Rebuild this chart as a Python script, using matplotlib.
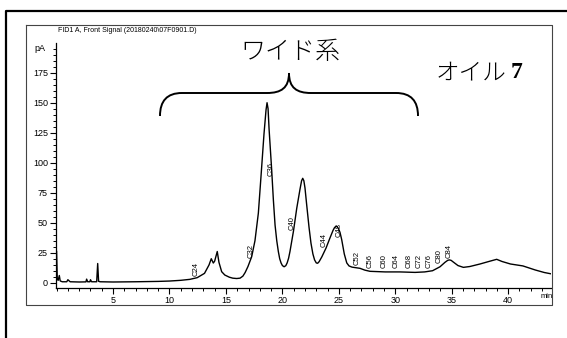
import matplotlib
matplotlib.use("Agg")
import matplotlib.pyplot as plt
from matplotlib.path import Path
from matplotlib.patches import PathPatch
from matplotlib.lines import Line2D
from matplotlib.ticker import MultipleLocator

# FID chromatogram trace (retention time in min, signal in pA)
time_min = [0.0, 0.06, 0.14, 0.24, 0.32, 0.5, 0.9, 1.0, 1.2, 2.0, 2.6, 2.66, 2.75, 2.95,
            3.0, 3.1, 3.55, 3.64, 3.72, 3.85, 5.0, 7.0, 9.0, 10.0, 11.0, 11.8, 12.45,
            13.1, 13.5, 13.7, 13.88, 14.0, 14.23, 14.38, 14.62, 14.9, 15.3, 15.6, 15.95,
            16.25, 16.5, 16.7, 16.95, 17.28, 17.57, 17.87, 18.1, 18.37, 18.55, 18.64,
            18.73, 18.82, 19.05, 19.2, 19.35, 19.5, 19.64, 19.76, 19.88, 20.0, 20.15,
            20.3, 20.42, 20.55, 20.67, 20.98, 21.27, 21.56, 21.7, 21.8, 21.9, 22.0,
            22.15, 22.36, 22.53, 22.7, 22.85, 23.0, 23.12, 23.25, 23.49, 23.87, 24.2,
            24.48, 24.62, 24.75, 24.87, 24.97, 25.1, 25.25, 25.48, 25.7, 25.9, 26.16,
            26.87, 27.3, 27.76, 29.1, 30.4, 31.75, 32.6, 33.3, 33.96, 34.4, 34.65, 34.8,
            34.95, 35.1, 35.55, 36.03, 36.6, 37.5, 38.4, 38.98, 39.45, 40.2, 41.3, 42.4,
            43.2, 43.8]
signal_pa = [26.0, 3.0, 2.0, 6.0, 1.5, 0.8, 0.8, 2.5, 0.8, 0.6, 0.7, 3.0, 0.8, 0.8,
             2.5, 0.8, 0.8, 16.0, 1.2, 0.8, 0.6, 0.8, 1.1, 1.4, 2.0, 2.8, 4.2,
             7.8, 14.8, 20.0, 16.4, 18.0, 26.0, 17.0, 9.2, 6.4, 4.6, 3.8, 3.5,
             3.8, 5.5, 8.5, 13.5, 21.7, 35.0, 58.0, 88.0, 124.0, 144.0, 150.0,
             145.0, 128.0, 94.0, 69.0, 48.0, 35.0, 26.0, 20.0, 16.5, 14.3, 13.3,
             14.2, 16.5, 20.5, 26.0, 43.0, 62.0, 78.0, 85.0, 87.0, 85.0, 79.0,
             65.0, 46.0, 33.0, 24.0, 19.0, 16.5, 16.2, 17.5, 21.5, 29.0, 37.0,
             43.5, 46.0, 47.0, 46.5, 45.0, 42.0, 36.0, 24.0, 16.5, 14.0, 13.0,
             12.0, 10.5, 9.5, 9.0, 9.0, 8.6, 9.0, 10.0, 13.3, 17.0, 18.7, 19.0,
             18.6, 17.5, 14.3, 12.8, 13.5, 15.6, 18.0, 19.5, 17.7, 15.6, 14.0, 10.6,
             8.5, 7.4]

# Carbon-number markers (retention time, label base height in pA)
peak_names = ["C24", "C32", "C36", "C40", "C44", "C48", "C52", "C56", "C60",
              "C64", "C68", "C72", "C76", "C80", "C84"]
peak_times = [12.35, 17.2, 18.96, 20.9, 23.7, 25.04, 26.6, 27.76, 29.0,
              30.1, 31.2, 32.1, 33.0, 33.9, 34.8]
peak_heights = [5.5, 21, 89, 44, 30, 38, 15, 12, 12, 12, 12, 12, 12, 16.5, 20.6]

x_ticks = [5, 10, 15, 20, 25, 30, 35, 40]
y_ticks = [0, 25, 50, 75, 100, 125, 150, 175]

W, H = 567, 338
fig = plt.figure(figsize=(W / 100, H / 100), dpi=100)

def fx(px):
    return px / W

def fy(py):
    return (H - py) / H

tick_font = ["Liberation Sans Narrow", "Liberation Sans", "DejaVu Sans"]

# outer frame (left and top edges visible)
fig.add_artist(Line2D([fx(5.8), fx(5.8), fx(W + 2)], [fy(H + 2), fy(10.8), fy(10.8)],
                      transform=fig.transFigure, color="black", lw=1.6))
# inner frame around the chromatogram
fig.add_artist(Line2D([fx(26), fx(552), fx(552), fx(26), fx(26)],
                      [fy(25), fy(25), fy(305), fy(305), fy(25)],
                      transform=fig.transFigure, color="#444444", lw=0.8))

left_px, right_px, top_px, bot_px = 55.5, 551, 43, 288
ax = fig.add_axes([fx(left_px), fy(bot_px), (right_px - left_px) / W, (bot_px - top_px) / H])
ax.set_facecolor("none")
ax.plot(time_min, signal_pa, color="black", lw=1.0, solid_joinstyle="round")
ax.set_xlim(-0.097, 43.79)
ax.set_ylim(-4.4, 199.75)

for s in ["top", "right"]:
    ax.spines[s].set_visible(False)
for s in ["left", "bottom"]:
    ax.spines[s].set_linewidth(0.9)

ax.set_xticks(x_ticks)
ax.set_yticks(y_ticks)
ax.xaxis.set_minor_locator(MultipleLocator(1))
ax.yaxis.set_minor_locator(MultipleLocator(5))
ax.tick_params(axis="both", which="major", direction="out", length=4, width=0.8, pad=1.5,
               labelsize=6.5)
ax.tick_params(axis="both", which="minor", direction="out", length=2.2, width=0.7)
for lab in ax.get_xticklabels() + ax.get_yticklabels():
    lab.set_family(tick_font)

ax.text(-1.0, 195, "pA", ha="right", va="center", fontsize=6.5, family=tick_font)
ax.text(43.4, -8.5, "min", ha="center", va="top", fontsize=5.5, family=tick_font)

# signal title
fig.text(fx(58), fy(30), "FID1 A, Front Signal (20180240\\07F0901.D)", ha="left",
         va="center", fontsize=5.0, family=tick_font)

# peak markers
for name, t, h in zip(peak_names, peak_times, peak_heights):
    ax.text(t, h, name, rotation=90, ha="center", va="bottom", fontsize=5.5,
            family=tick_font)

# curly brace over the wide-range peaks
def P(px, py):
    return (fx(px), fy(py))

verts = [P(160, 116), P(160, 101), P(167, 93), P(182, 93),
         P(267, 93),
         P(281, 93), P(289, 88), P(289, 73),
         P(289, 88), P(297, 93), P(311, 93),
         P(396, 93),
         P(411, 93), P(418, 101), P(418, 116)]
codes = [Path.MOVETO, Path.CURVE4, Path.CURVE4, Path.CURVE4,
         Path.LINETO,
         Path.CURVE4, Path.CURVE4, Path.CURVE4,
         Path.CURVE4, Path.CURVE4, Path.CURVE4,
         Path.LINETO,
         Path.CURVE4, Path.CURVE4, Path.CURVE4]
fig.add_artist(PathPatch(Path(verts, codes), transform=fig.transFigure, fill=False,
                         edgecolor="black", lw=1.4))

jp_font = ["Noto Sans CJK JP", "DejaVu Sans"]
fig.text(fx(290), fy(52), "ワイド系", ha="center", va="center", fontsize=18,
         family=jp_font, fontweight="light")
fig.text(fx(506), fy(73), "オイル", ha="right", va="center", fontsize=17,
         family=jp_font, fontweight="light")
fig.text(fx(511), fy(72), "7", ha="left", va="center", fontsize=17,
         family=["Liberation Serif", "DejaVu Serif"], fontweight="bold")

fig.savefig("out.png", dpi=100)
